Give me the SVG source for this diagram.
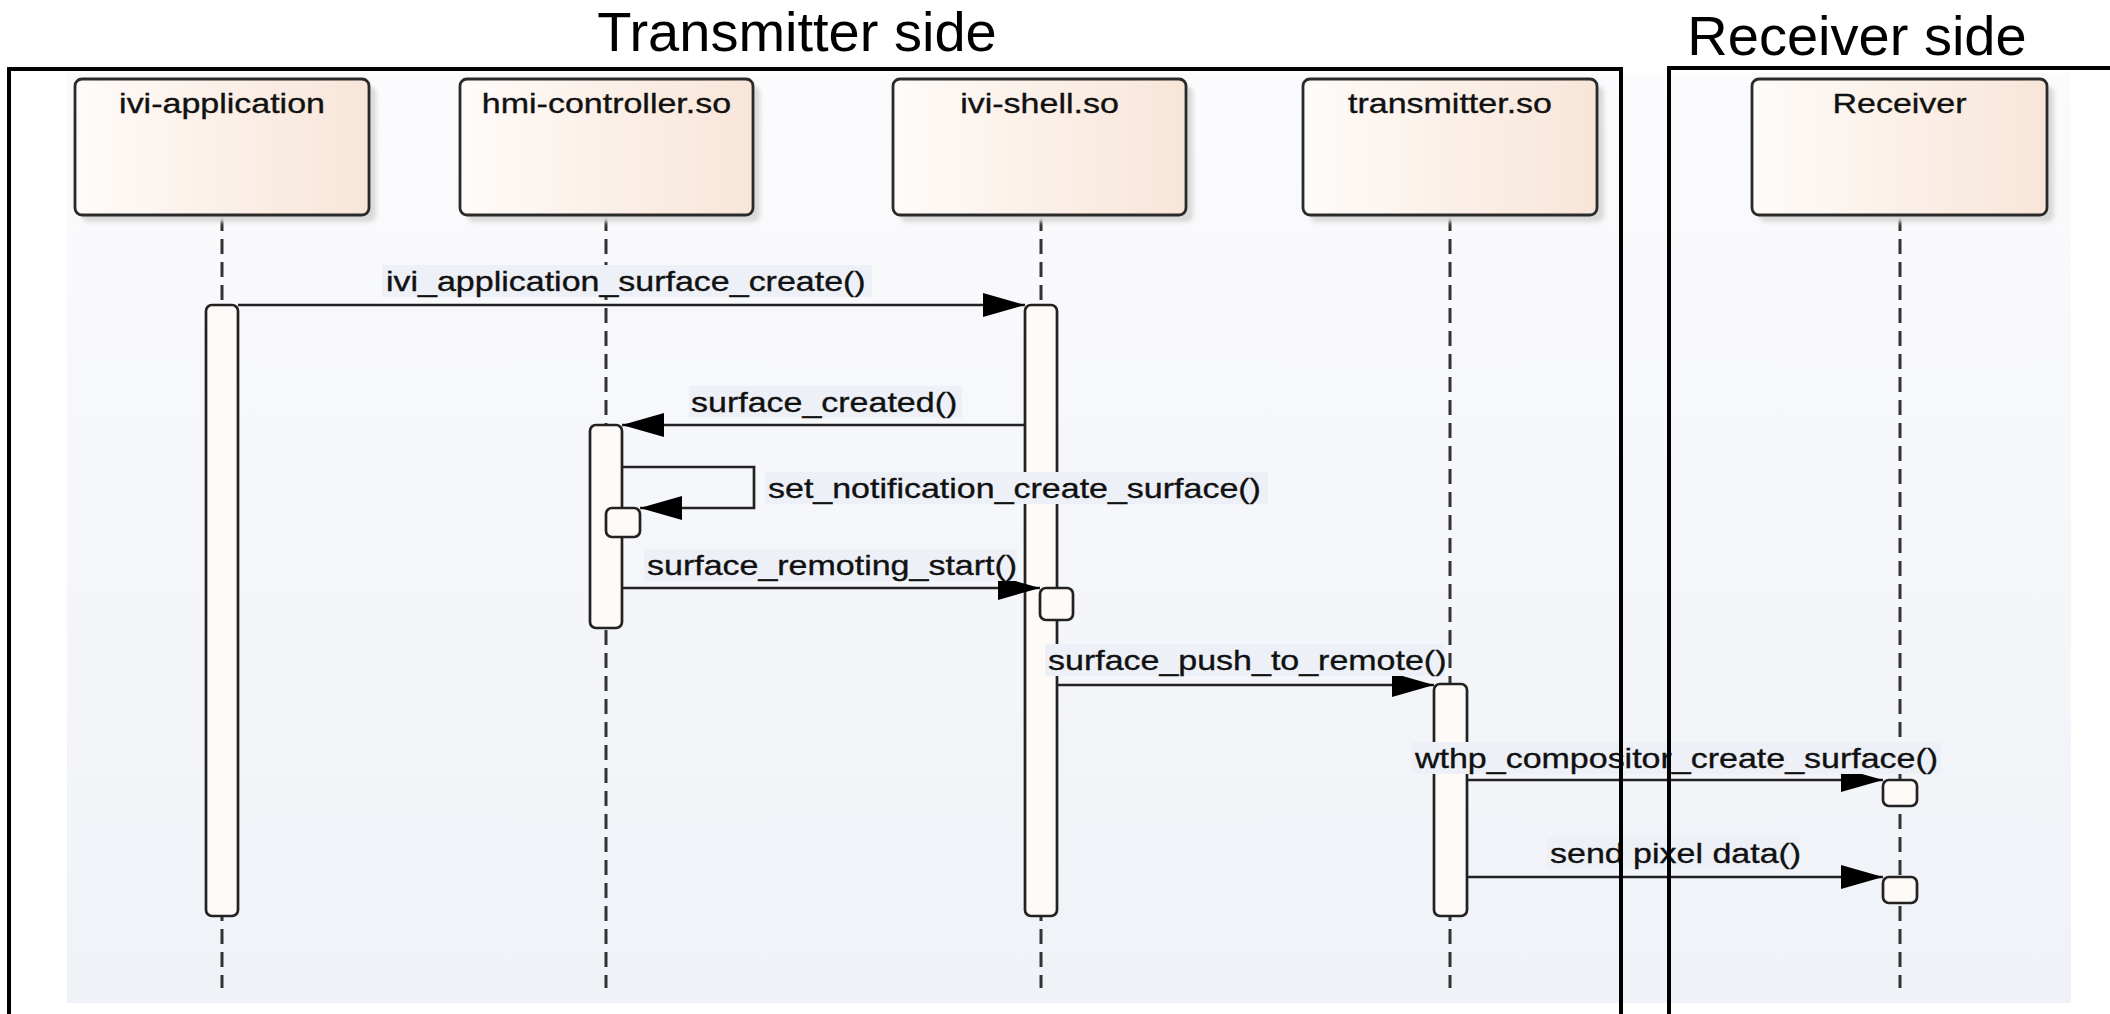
<svg xmlns="http://www.w3.org/2000/svg" width="2110" height="1014" viewBox="0 0 2110 1014">
  <style>
    .title { font-family: "Liberation Sans", Arial, sans-serif; font-size: 56px; fill: #000; }
    .lbl { font-family: "Liberation Sans", Arial, sans-serif; font-size: 28px; fill: #111; stroke: #111; stroke-width: 0.35; }
    .box { fill: url(#boxFill); stroke: #2a2a2a; stroke-width: 2.8; }
    .shadow { fill: #d9d9d9; filter: url(#soft); }
    .life { stroke: #333; stroke-width: 3; stroke-dasharray: 15 8; fill: none; }
    .act { fill: #fdfaf8; stroke: #222; stroke-width: 2.7; }
    .msg { stroke: #222; stroke-width: 2.7; fill: none; marker-end: url(#head); }
    .lblbg { fill: #edf0f7; }
    .frame { stroke: #000; stroke-width: 4; fill: none; }
  </style>
  <defs>
    <linearGradient id="bgFill" x1="0" y1="0" x2="0" y2="1">
      <stop offset="0" stop-color="#fbfbfd"/>
      <stop offset="1" stop-color="#eff2f7"/>
    </linearGradient>
    <linearGradient id="boxFill" x1="0" y1="0" x2="1" y2="0">
      <stop offset="0" stop-color="#fefbf9"/>
      <stop offset="1" stop-color="#f8e5d8"/>
    </linearGradient>
    <filter id="soft" x="-10%" y="-10%" width="120%" height="120%">
      <feGaussianBlur stdDeviation="2"/>
    </filter>
    <marker id="head" markerUnits="userSpaceOnUse" markerWidth="42" markerHeight="24" refX="42" refY="12" orient="auto">
      <path d="M0,0 L42,12 L0,24 Z" fill="#000"/>
    </marker>
  </defs>

  <!-- diagram canvas -->
  <rect x="67" y="73" width="2004" height="930" fill="url(#bgFill)"/>

  <!-- titles -->
  <text class="title" x="797" y="51" text-anchor="middle">Transmitter side</text>
  <text class="title" x="1857" y="55" text-anchor="middle">Receiver side</text>

  <!-- lifelines -->
  <g id="lifelines">
    <line class="life" x1="222" y1="216" x2="222" y2="988"/>
    <line class="life" x1="606" y1="216" x2="606" y2="988"/>
    <line class="life" x1="1041" y1="216" x2="1041" y2="988"/>
    <line class="life" x1="1450" y1="216" x2="1450" y2="988"/>
    <line class="life" x1="1900" y1="216" x2="1900" y2="988"/>
  </g>

  <!-- participants -->
  <g id="ivi-application">
    <rect class="shadow" x="82" y="86" width="294" height="136" rx="7"/>
    <rect class="box" x="75" y="79" width="294" height="136" rx="7"/>
    <text class="lbl" transform="translate(222,113) scale(1.214,1)" text-anchor="middle">ivi-application</text>
  </g>
  <g id="hmi-controller">
    <rect class="shadow" x="467" y="86" width="293" height="136" rx="7"/>
    <rect class="box" x="460" y="79" width="293" height="136" rx="7"/>
    <text class="lbl" transform="translate(606.5,113) scale(1.214,1)" text-anchor="middle">hmi-controller.so</text>
  </g>
  <g id="ivi-shell">
    <rect class="shadow" x="900" y="86" width="293" height="136" rx="7"/>
    <rect class="box" x="893" y="79" width="293" height="136" rx="7"/>
    <text class="lbl" transform="translate(1039.5,113) scale(1.214,1)" text-anchor="middle">ivi-shell.so</text>
  </g>
  <g id="transmitter">
    <rect class="shadow" x="1310" y="86" width="294" height="136" rx="7"/>
    <rect class="box" x="1303" y="79" width="294" height="136" rx="7"/>
    <text class="lbl" transform="translate(1450,113) scale(1.214,1)" text-anchor="middle">transmitter.so</text>
  </g>
  <g id="receiver">
    <rect class="shadow" x="1759" y="86" width="295" height="136" rx="7"/>
    <rect class="box" x="1752" y="79" width="295" height="136" rx="7"/>
    <text class="lbl" transform="translate(1899.5,113) scale(1.214,1)" text-anchor="middle">Receiver</text>
  </g>

  <!-- activation bars -->
  <g id="activations">
    <rect class="act" x="206" y="305" width="32" height="611" rx="6"/>
    <rect class="act" x="1025" y="305" width="32" height="611" rx="6"/>
    <rect class="act" x="590" y="425" width="32" height="203" rx="6"/>
    <rect class="act" x="1434" y="684" width="33" height="232" rx="6"/>
  </g>

  <!-- messages -->
  <g id="connectors">
    <line class="msg" x1="238" y1="305" x2="1025" y2="305"/>
    <line class="msg" x1="1025" y1="425" x2="622" y2="425"/>
    <polyline class="msg" points="622,467 754,467 754,508 640,508"/>
    <line class="msg" x1="622" y1="588" x2="1040" y2="588"/>
    <line class="msg" x1="1057" y1="685" x2="1434" y2="685"/>
    <line class="msg" x1="1467" y1="780" x2="1883" y2="780"/>
    <line class="msg" x1="1467" y1="877" x2="1883" y2="877"/>
  </g>

  <!-- nested activations -->
  <g id="sub-activations">
    <rect class="act" x="606" y="508" width="34" height="29" rx="6"/>
    <rect class="act" x="1040" y="588" width="33" height="32" rx="6"/>
    <rect class="act" x="1883" y="780" width="34" height="26" rx="6"/>
    <rect class="act" x="1883" y="877" width="34" height="26" rx="6"/>
  </g>

  <!-- message labels -->
  <g id="labels">
    <rect class="lblbg" x="382" y="265" width="490" height="32"/>
    <text class="lbl" transform="translate(386,291) scale(1.214,1)">ivi_application_surface_create()</text>

    <rect class="lblbg" x="689" y="386" width="273" height="32"/>
    <text class="lbl" transform="translate(691,412) scale(1.214,1)">surface_created()</text>

    <rect class="lblbg" x="765" y="472" width="503" height="32"/>
    <text class="lbl" transform="translate(768,498) scale(1.214,1)">set_notification_create_surface()</text>

    <rect class="lblbg" x="644" y="549" width="373" height="32"/>
    <text class="lbl" transform="translate(647,575) scale(1.214,1)">surface_remoting_start()</text>

    <rect class="lblbg" x="1045" y="644" width="400" height="32"/>
    <text class="lbl" transform="translate(1048,670) scale(1.214,1)">surface_push_to_remote()</text>

    <rect class="lblbg" x="1412" y="742" width="529" height="32"/>
    <text class="lbl" transform="translate(1415,768) scale(1.214,1)">wthp_compositor_create_surface()</text>

    <rect class="lblbg" x="1547" y="837" width="252" height="32"/>
    <text class="lbl" transform="translate(1550,863) scale(1.214,1)">send pixel data()</text>
  </g>

  <!-- side frames -->
  <g id="frames">
    <path class="frame" d="M9,1014 V69 H1621 V1014"/>
    <path class="frame" d="M1669,1014 V68 H2112"/>
  </g>
</svg>
